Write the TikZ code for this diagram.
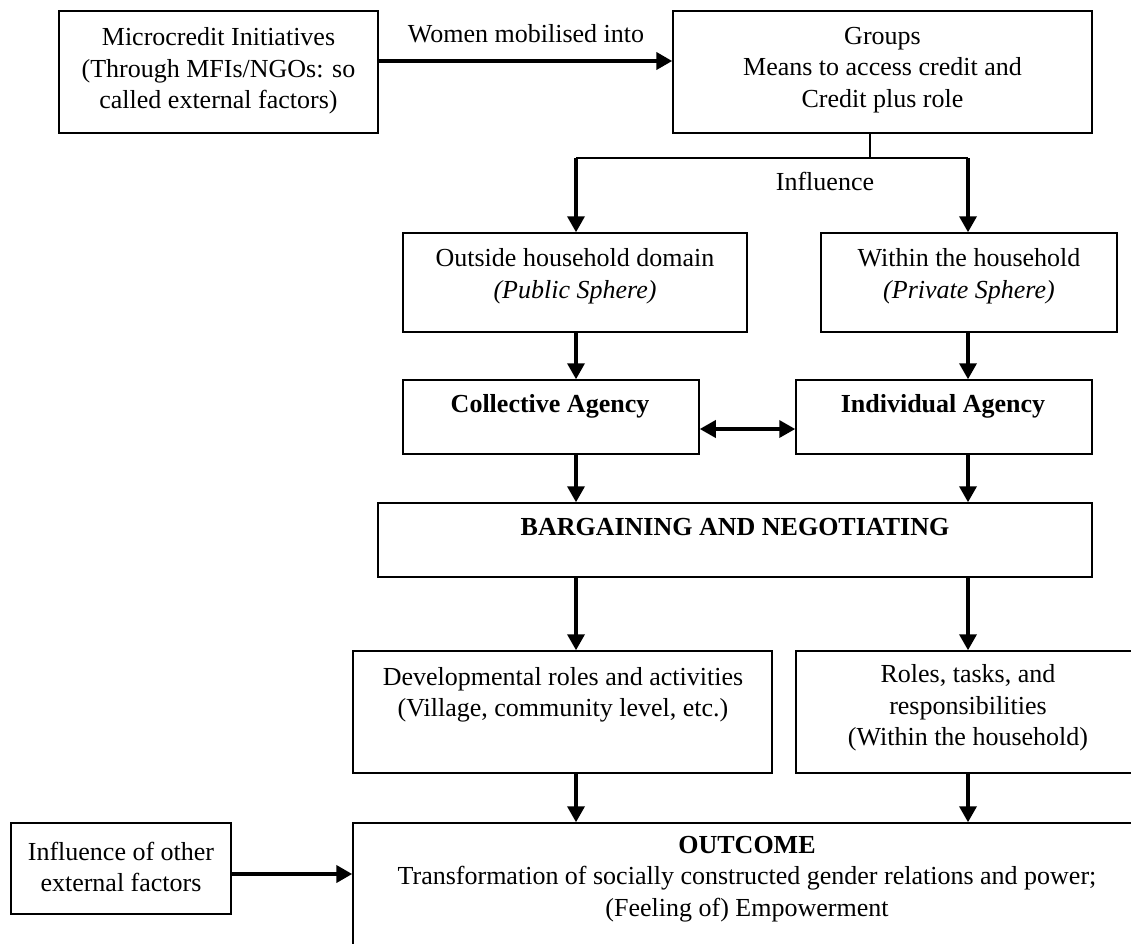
\documentclass[tikz,border=0pt]{standalone}
\usepackage{fontspec}
\setmainfont{Liberation Serif}
\usetikzlibrary{arrows.meta,fit,calc}
\begin{document}
\begin{tikzpicture}[x=1pt,y=-1pt,
  box/.style={draw, line width=1.5pt, inner sep=0pt},
  txt/.style={align=center, inner sep=0pt, font=\fontsize{26}{31.5}\selectfont},
  conn/.style={line width=1.5pt},
  arr/.style={line width=3.5pt, -{Triangle[length=16pt,width=17pt]}},
  darr/.style={line width=3.5pt, {Triangle[length=16pt,width=17pt]}-{Triangle[length=16pt,width=17pt]}},
]
\useasboundingbox (0,0) rectangle (1131,943);
\clip (0,0) rectangle (1131,943);
\fill[white] (0,0) rectangle (1131,943);

% boxes
\node[box, fit={(59,11) (378,133)}] (mc) {};
\node[box, fit={(673,11) (1092,133)}] (grp) {};
\node[box, fit={(403,233) (747,332)}] (out) {};
\node[box, fit={(821,233) (1117,332)}] (win) {};
\node[box, fit={(403,380) (699,454)}] (col) {};
\node[box, fit={(796,380) (1092,454)}] (ind) {};
\node[box, fit={(378,503) (1092,577)}] (barg) {};
\node[box, fit={(353,651) (772,773)}] (dev) {};
\node[box, fit={(796,651) (1141,773)}] (roles) {};
\node[box, fit={(353,823) (1141,965)}] (outc) {};
\node[box, fit={(11,823) (231,914)}] (inf) {};

% texts
\node[txt] (mct) at (218.5,71) {Microcredit Initiatives\\(Through MFIs/NGOs: so\\called external factors)};
\node[txt] (grpt) at (882.5,70) {Groups\\Means to access credit and\\Credit plus role};
\node[txt, anchor=base] (wlab) at (526,42) {Women mobilised into};
\node[txt, anchor=base] (ilab) at (825,190) {Influence};
\node[txt] (outt) at (575,276) {Outside household domain\\\textit{(Public Sphere)}};
\node[txt] (wint) at (969,276) {Within the household\\\textit{(Private Sphere)}};
\node[txt, anchor=base] (colt) at (550,412) {\textbf{Collective Agency}};
\node[txt, anchor=base] (indt) at (943,412) {\textbf{Individual Agency}};
\node[txt, anchor=base] (bargt) at (735,535) {\textbf{BARGAINING AND NEGOTIATING}};
\node[txt] (devt) at (563,695) {Developmental roles and activities\\(Village, community level, etc.)};
\node[txt] (rolest) at (968,708) {Roles, tasks, and\\responsibilities\\(Within the household)};
\node[txt] (outct) at (747,879) {\textbf{OUTCOME}\\Transformation of socially constructed gender relations and power;\\(Feeling of) Empowerment};
\node[txt] (inft) at (121,867) {Influence of other\\external factors};

% helper coordinates
\coordinate (L) at (576,0);
\coordinate (R) at (968,0);
\coordinate (split) at (870,158);
\coordinate (sl) at (576,158);
\coordinate (sr) at (968,158);
\coordinate (a1) at (0,61);
\coordinate (d1) at (0,429);
\coordinate (e1) at (0,874);

% connectors
\draw[arr, line width=4.5pt] (mc.east |- a1) -- (grp.west |- a1);
\draw[conn] (grp.south -| split) -- (split);
\draw[conn] (sl) -- (sr);
\draw[arr] (sl) -- (out.north -| sl);
\draw[arr] (sr) -- (win.north -| sr);
\draw[arr] (out.south -| L) -- (col.north -| L);
\draw[arr] (win.south -| R) -- (ind.north -| R);
\draw[darr] (col.east |- d1) -- (ind.west |- d1);
\draw[arr] (col.south -| L) -- (barg.north -| L);
\draw[arr] (ind.south -| R) -- (barg.north -| R);
\draw[arr] (barg.south -| L) -- (dev.north -| L);
\draw[arr] (barg.south -| R) -- (roles.north -| R);
\draw[arr] (dev.south -| L) -- (outc.north -| L);
\draw[arr] (roles.south -| R) -- (outc.north -| R);
\draw[arr, line width=4.5pt] (inf.east |- e1) -- (outc.west |- e1);
\end{tikzpicture}
\end{document}
